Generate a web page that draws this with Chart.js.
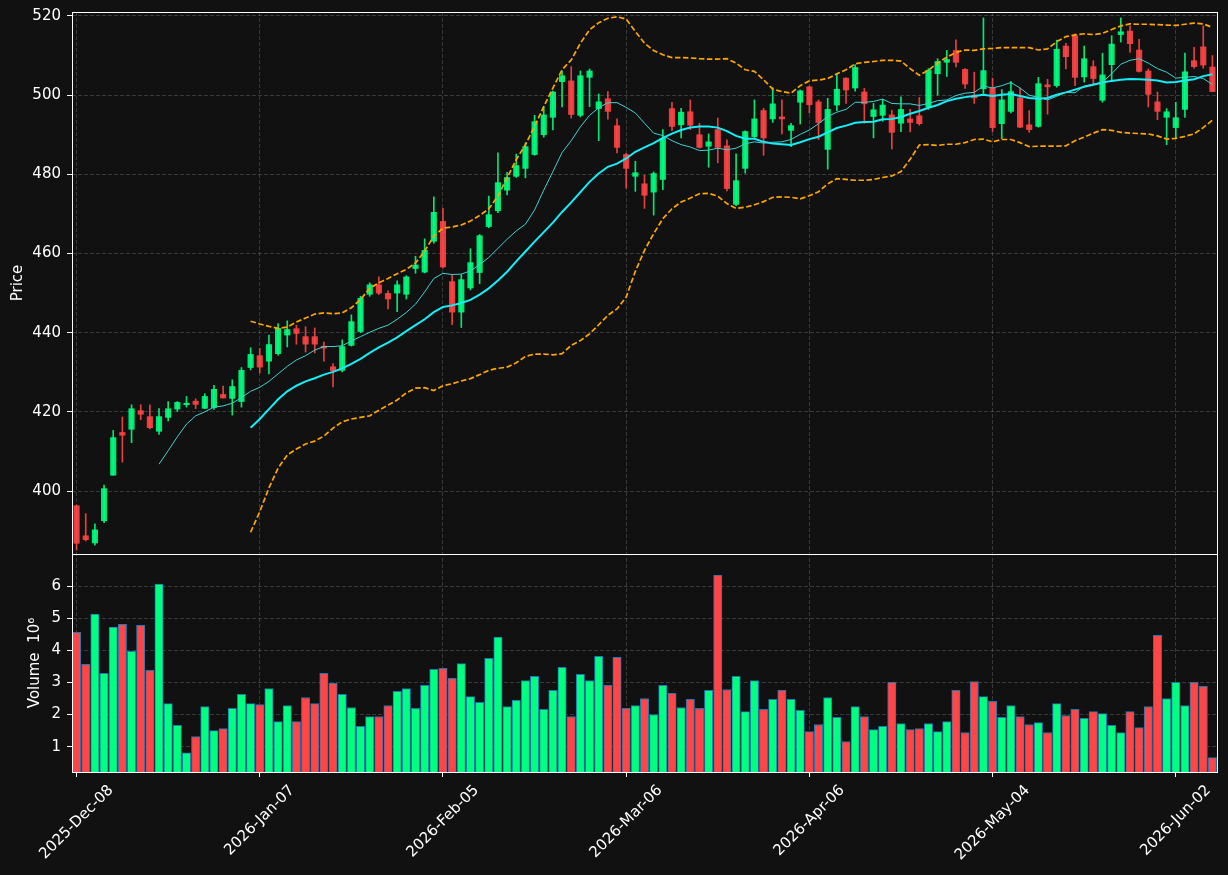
<!DOCTYPE html>
<html><head><meta charset="utf-8">
<script src="https://cdn.jsdelivr.net/npm/chart.js@4.4.1/dist/chart.umd.min.js"></script>
<style>html,body{margin:0;padding:0;background:#111111;}canvas{display:block;}</style>
</head><body>
<canvas id="c" width="1228" height="875"></canvas>
<script>
// ---- data ----
const opens = [396.3,388.7,386.9,392.5,404.0,414.8,415.6,420.3,418.8,415.1,418.6,420.7,421.8,422.7,420.9,421.1,424.4,423.4,422.6,431.2,
434.2,432.8,434.7,439.4,441.0,439.0,439.0,436.6,431.4,430.5,436.8,440.3,449.7,452.1,449.9,450.0,449.7,456.2,455.3,463.1,
468.1,452.9,445.2,451.3,455.2,466.8,470.8,476.0,479.5,481.5,485.0,490.0,494.4,503.4,503.6,494.9,504.5,496.6,499.1,492.3,
485.0,479.5,477.6,475.5,478.7,496.6,492.5,495.8,490.0,487.1,491.3,487.2,472.4,481.5,489.5,496.1,494.0,494.5,491.1,498.2,
502.1,498.3,486.3,497.5,504.3,501.8,500.8,494.6,494.9,495.0,492.9,494.0,494.8,497.0,505.4,508.3,511.3,506.5,500.0,501.6,
501.8,492.8,495.9,499.3,492.5,492.1,502.6,502.4,512.4,515.0,504.6,507.2,498.7,507.7,515.3,516.2,511.4,506.1,498.3,494.4,
491.8,496.4,508.7,512.2,507.1];
const highs = [396.5,394.3,391.7,401.5,415.3,418.7,421.8,421.8,421.8,420.8,422.6,422.6,423.9,423.3,424.6,426.7,426.5,428.1,431.2,436.2,
436.0,439.4,442.3,443.0,441.9,441.5,441.2,437.6,432.2,438.2,444.5,449.2,452.6,454.1,450.6,453.1,454.4,459.3,463.7,474.3,
471.4,454.7,454.7,461.2,464.8,474.5,485.4,480.5,485.1,487.9,494.9,497.1,501.0,506.1,507.2,506.1,506.6,500.3,500.9,494.0,
485.3,483.3,479.8,480.6,491.3,498.2,496.7,498.8,492.9,490.2,494.2,488.7,485.2,491.0,498.8,496.7,501.9,498.8,492.9,501.3,
502.3,498.8,499.2,505.4,504.4,507.7,501.7,497.9,498.9,496.2,499.6,496.4,499.4,506.7,509.2,511.3,514.0,506.7,505.8,519.5,
504.3,501.4,503.4,501.8,496.1,504.5,504.0,513.9,513.1,515.5,512.4,508.7,510.6,515.0,519.5,517.5,514.1,506.6,500.8,496.6,
498.2,510.6,512.1,517.5,510.0];
const lows = [385.1,387.4,386.3,392.0,404.0,407.3,412.2,418.0,415.7,414.3,417.7,420.1,421.2,420.8,420.8,420.6,423.5,419.2,421.2,430.6,
429.8,429.6,434.3,436.4,437.1,435.1,434.9,432.8,426.3,430.1,436.6,440.0,449.2,449.6,446.0,445.3,448.5,455.0,455.1,462.6,
456.3,442.0,441.3,450.8,452.4,466.5,470.3,474.8,479.2,479.1,484.8,489.4,491.2,497.0,494.2,494.5,497.1,488.5,493.9,485.4,
476.5,475.7,471.4,469.7,476.1,491.0,489.2,491.3,486.6,481.8,482.9,475.8,472.1,480.3,489.3,484.8,493.1,490.2,487.0,492.7,
495.5,488.8,481.3,496.1,497.9,501.0,492.9,489.2,493.4,486.4,490.8,490.7,492.4,496.4,500.0,504.7,507.1,501.7,497.9,500.4,
490.8,489.0,495.5,491.8,490.6,491.9,495.2,502.0,506.6,502.4,503.3,502.6,498.2,503.9,513.4,510.8,505.8,497.0,493.8,487.5,
489.2,494.4,506.8,506.8,500.9];
const closes = [386.8,387.7,390.2,400.6,413.5,414.1,420.8,419.4,416.0,418.8,420.8,422.4,422.2,421.9,423.9,425.7,423.5,426.4,430.5,434.5,
431.3,437.0,441.1,440.8,439.8,437.1,437.1,436.1,430.4,436.5,442.8,448.7,452.1,450.0,448.5,452.1,454.1,457.1,460.8,470.4,
456.6,445.2,453.4,457.7,464.5,469.8,477.9,479.2,482.2,487.0,493.3,495.0,500.8,504.9,495.1,504.9,506.1,498.3,495.9,486.8,
481.5,480.4,474.7,480.2,489.1,492.1,495.7,492.4,486.8,488.2,486.8,476.4,478.4,490.8,494.0,489.2,497.8,494.0,492.3,501.1,
497.6,493.1,496.4,501.5,501.3,507.0,497.8,496.3,497.5,490.6,496.4,493.1,492.8,506.3,508.5,509.0,508.3,502.8,499.3,506.2,
491.8,498.8,500.9,491.9,491.3,502.9,502.1,511.6,509.7,504.5,509.2,504.2,505.1,512.9,516.0,513.0,506.0,500.2,495.9,495.8,
494.3,505.9,507.2,507.6,500.9];
const volumes = [4.56,3.56,5.13,3.28,4.72,4.81,3.97,4.78,3.38,6.06,2.34,1.66,0.81,1.31,2.25,1.50,1.56,2.19,2.63,2.34,
2.31,2.81,1.78,2.28,1.78,2.53,2.34,3.28,2.97,2.63,2.22,1.63,1.94,1.94,2.28,2.72,2.81,2.19,2.91,3.41,
3.44,3.13,3.59,2.56,2.38,3.75,4.41,2.25,2.44,3.06,3.19,2.16,2.75,3.47,1.94,3.25,3.06,3.81,2.91,3.78,
2.19,2.28,2.50,2.00,2.91,2.66,2.22,2.47,2.19,2.75,6.34,2.78,3.19,2.09,3.06,2.16,2.47,2.75,2.47,2.13,
1.47,1.69,2.53,1.91,1.16,2.25,1.94,1.53,1.63,3.00,1.72,1.53,1.56,1.72,1.47,1.78,2.75,1.44,3.03,2.56,
2.41,1.91,2.28,1.94,1.69,1.75,1.44,2.34,1.97,2.16,1.88,2.09,2.03,1.66,1.44,2.09,1.59,2.25,4.47,2.50,
3.00,2.28,3.00,2.88,0.66];
// thin moving average, first value at bar 9
const ma10 = [406.8,410.2,413.7,416.9,419.0,420.0,421.2,421.5,422.2,423.6,
425.2,426.2,427.7,429.6,431.5,433.1,434.2,435.6,436.5,436.5,
436.7,437.9,439.0,440.1,441.1,441.9,443.4,445.1,447.2,450.3,
453.7,455.0,454.7,454.8,455.6,457.2,459.0,461.3,463.6,465.7,
467.4,471.0,476.0,480.7,485.5,488.5,492.0,494.9,496.8,498.1,
498.1,496.9,495.5,492.9,490.4,489.8,488.5,487.5,486.9,486.0,
486.1,486.6,486.2,486.6,487.7,488.2,487.9,488.1,488.2,488.8,
490.1,491.2,492.8,494.6,495.7,496.4,498.2,498.2,498.4,499.0,
497.9,497.8,497.8,497.4,497.9,498.6,498.8,499.9,500.5,500.7,
502.3,501.8,502.4,503.2,501.8,500.0,499.4,498.8,499.7,500.7,
500.6,502.3,502.8,503.3,505.4,507.8,508.8,509.2,508.1,506.7,
505.8,504.3,504.5,504.7,504.2,502.7];
// thick moving average and bands, first value at bar 19
const ma20 = [416.0,418.2,420.7,423.2,425.2,426.6,427.7,428.5,429.4,430.1,
431.0,432.1,433.4,434.9,436.3,437.5,438.8,440.4,441.9,443.4,
445.2,446.5,446.9,447.5,448.3,449.6,451.2,453.2,455.4,458.0,
460.5,463.0,465.4,467.8,470.5,472.9,475.5,478.1,480.2,481.9,
482.7,484.0,485.7,486.8,487.9,489.2,490.3,491.2,491.8,492.1,
492.1,491.8,490.9,489.7,489.0,489.0,488.2,487.8,487.6,487.4,
488.1,488.9,489.5,490.6,491.7,492.3,493.0,493.2,493.3,493.9,
494.0,494.5,495.3,496.0,496.8,497.5,498.5,499.1,499.5,499.8,
500.1,499.8,500.1,500.3,499.8,499.3,499.1,499.3,500.1,500.7,
501.4,502.1,502.6,503.2,503.6,503.9,504.1,504.0,503.9,503.7,
503.2,503.3,503.7,504.0,504.8,505.3];
const bbUpper = [442.9,442.2,441.6,441.1,441.4,442.7,443.7,444.7,445.0,444.8,
445.0,446.3,448.4,451.2,452.6,453.7,454.9,456.0,457.6,460.6,
464.4,466.4,466.7,467.2,468.2,469.6,471.3,474.5,479.1,483.7,
487.5,492.1,497.1,501.8,506.4,508.9,513.1,516.5,518.3,519.4,
519.8,519.2,516.1,513.1,511.3,510.2,509.5,509.5,509.4,509.2,
509.1,509.1,509.2,508.1,506.4,506.0,503.9,501.5,500.9,500.5,
502.4,503.6,503.8,504.2,505.4,506.4,507.9,508.3,508.5,508.8,
508.8,508.6,506.7,505.0,506.3,508.1,509.6,510.8,511.4,511.3,
511.7,511.8,512.0,512.0,512.0,512.0,511.4,511.7,513.5,514.8,
515.2,515.5,515.3,515.6,516.6,517.5,518.0,517.9,517.9,517.8,
517.7,517.6,517.9,518.2,518.0,517.1];
const bbLower = [389.6,394.8,400.8,405.8,409.1,410.6,411.9,412.6,413.9,415.9,
417.5,418.2,418.6,419.0,420.4,421.7,423.0,424.8,426.0,426.1,
425.4,426.6,427.1,427.8,428.4,429.4,430.5,431.0,431.3,432.4,
434.0,434.6,434.6,434.4,434.7,436.8,438.0,439.7,442.0,444.4,
446.0,449.0,455.5,460.8,465.0,468.8,471.3,473.0,474.0,475.1,
475.2,474.5,472.6,471.4,471.7,472.3,473.1,474.2,474.3,474.2,
473.8,474.6,475.6,477.6,478.9,478.7,478.5,478.5,478.7,479.2,
479.6,480.7,483.8,487.4,487.5,487.3,487.6,487.6,488.0,488.8,
488.9,488.2,488.8,488.8,488.0,487.0,487.1,487.1,487.1,487.2,
488.5,489.4,490.4,491.3,491.1,490.6,490.4,490.3,490.2,489.7,
488.9,489.1,489.6,490.2,491.8,493.7];
const tickIndex = [0,20,40,60,80,100,120];
const tickLabels = ['2025-Dec-08','2026-Jan-07','2026-Feb-05','2026-Mar-06','2026-Apr-06','2026-May-04','2026-Jun-02'];
const priceTicks = [400,420,440,460,480,500,520];
const volumeTicks = [1,2,3,4,5,6];

// ---- styling ----
const UP = '#00ff80', DOWN = '#ff4545';
const UP_C = 'rgba(0,255,128,0.9)', DOWN_C = 'rgba(255,69,69,0.9)';
const GRID = 'rgba(255,255,255,0.17)';
const isUp = closes.map((c, i) => c >= opens[i]);
const candleColors = isUp.map(u => u ? UP_C : DOWN_C);
const volColors = isUp.map(u => u ? UP : DOWN);

Chart.defaults.font.family = "'DejaVu Sans', sans-serif";
Chart.defaults.font.size = 15;
Chart.defaults.color = '#ffffff';

const framePlugin = {
  id: 'frames',
  afterDraw(chart) {
    const { ctx, chartArea: ca, scales } = chart;
    ctx.save();
    ctx.strokeStyle = '#ffffff';
    ctx.lineWidth = 1;
    ctx.setLineDash([]);
    for (const id of ['y', 'yv']) {
      const s = scales[id];
      const l = Math.round(ca.left), r = Math.round(ca.right);
      const t = Math.round(s.top), b = Math.round(s.bottom);
      ctx.strokeRect(l + 0.5, t + 0.5, r - l, b - t);
    }
    const xs = scales.x;
    ctx.fillStyle = '#ffffff';
    ctx.font = "15px 'DejaVu Sans'";
    ctx.textAlign = 'center';
    ctx.textBaseline = 'middle';
    tickIndex.forEach((v, k) => {
      const px = xs.getPixelForValue(v);
      const w = ctx.measureText(tickLabels[k]).width;
      const cy = ca.bottom + 9.8 + (w + 17.5) * 0.35355;
      ctx.save();
      ctx.translate(px, cy);
      ctx.rotate(-Math.PI / 4);
      ctx.fillText(tickLabels[k], 0, 0);
      ctx.restore();
    });
    ctx.restore();
  }
};

const fitY = s => { s.width = 72; s.paddingTop = 0; s.paddingBottom = 0; };
const lineBase = { type: 'line', pointRadius: 0, tension: 0, fill: false, yAxisID: 'y', xAxisID: 'x', order: 0, clip: 0 };

new Chart(document.getElementById('c'), {
  type: 'bar',
  data: {
    datasets: [
      Object.assign({}, lineBase, { label: 'MA10', data: ma10.map((v, k) => ({ x: k + 9, y: v })), borderColor: '#3fd3d3', borderWidth: 1 }),
      Object.assign({}, lineBase, { label: 'MA20', data: ma20.map((v, k) => ({ x: k + 19, y: v })), borderColor: '#14eef8', borderWidth: 2 }),
      Object.assign({}, lineBase, { label: 'Upper', data: bbUpper.map((v, k) => ({ x: k + 19, y: v })), borderColor: '#ffa500', borderWidth: 1.7, borderDash: [5.5, 2.5] }),
      Object.assign({}, lineBase, { label: 'Lower', data: bbLower.map((v, k) => ({ x: k + 19, y: v })), borderColor: '#ffa500', borderWidth: 1.7, borderDash: [5.5, 2.5] }),
      { type: 'bar', label: 'Body', data: opens.map((o, i) => ({ x: i, y: [o, closes[i]] })), backgroundColor: candleColors,
        barThickness: 5.5, grouped: false, minBarLength: 1, yAxisID: 'y', xAxisID: 'x', order: 2, clip: 0 },
      { type: 'bar', label: 'Wick', data: lows.map((l, i) => ({ x: i, y: [l, highs[i]] })), backgroundColor: candleColors,
        barThickness: 1, grouped: false, yAxisID: 'y', xAxisID: 'x', order: 3, clip: 0 },
      { type: 'bar', label: 'Volume', data: volumes.map((v, i) => ({ x: i, y: v })), backgroundColor: volColors,
        borderColor: '#1f77b4', borderWidth: 1, borderSkipped: false, barThickness: 8.4, grouped: false,
        yAxisID: 'yv', xAxisID: 'x', order: 4, clip: 0 }
    ]
  },
  options: {
    responsive: false,
    animation: false,
    devicePixelRatio: 1,
    events: [],
    layout: { padding: { top: 12, right: 11, left: 0, bottom: 0 }, autoPadding: false },
    plugins: { legend: { display: false }, tooltip: { enabled: false } },
    scales: {
      x: {
        type: 'linear', position: 'bottom', min: -0.5, max: 124.5, offset: false,
        afterBuildTicks: s => { s.ticks = tickIndex.map(v => ({ value: v })); },
        afterFit: s => { s.height = 103; s.paddingLeft = 0; s.paddingRight = 0; },
        ticks: { display: false },
        grid: { color: GRID, lineWidth: 1, offset: false, drawTicks: true, tickLength: 5, tickColor: '#ffffff', tickWidth: 1, tickBorderDash: [] },
        border: { display: false, dash: [4, 2] }
      },
      yv: {
        type: 'linear', position: 'left', stack: 'panels', stackWeight: 218, min: 0.21, max: 7.0,
        afterBuildTicks: s => { s.ticks = volumeTicks.map(v => ({ value: v })); },
        afterFit: fitY,
        ticks: { color: '#ffffff', padding: 6, font: { size: 15 } },
        grid: { color: GRID, lineWidth: 1, drawTicks: true, tickLength: 5, tickColor: '#ffffff', tickWidth: 1, tickBorderDash: [] },
        border: { display: false, dash: [4, 2] },
        title: { display: true, text: 'Volume  10\u2076', color: '#ffffff', font: { size: 15 }, padding: { top: 26, bottom: 0 } }
      },
      y: {
        type: 'linear', position: 'left', stack: 'panels', stackWeight: 542, min: 384.1, max: 521.0,
        afterBuildTicks: s => { s.ticks = priceTicks.map(v => ({ value: v })); },
        afterFit: fitY,
        ticks: { color: '#ffffff', padding: 6, font: { size: 15 } },
        grid: { color: GRID, lineWidth: 1, drawTicks: true, tickLength: 5, tickColor: '#ffffff', tickWidth: 1, tickBorderDash: [] },
        border: { display: false, dash: [4, 2] },
        title: { display: true, text: 'Price', color: '#ffffff', font: { size: 15 }, padding: { top: 9, bottom: 0 } }
      }
    }
  },
  plugins: [framePlugin]
});
</script>
</body></html>
